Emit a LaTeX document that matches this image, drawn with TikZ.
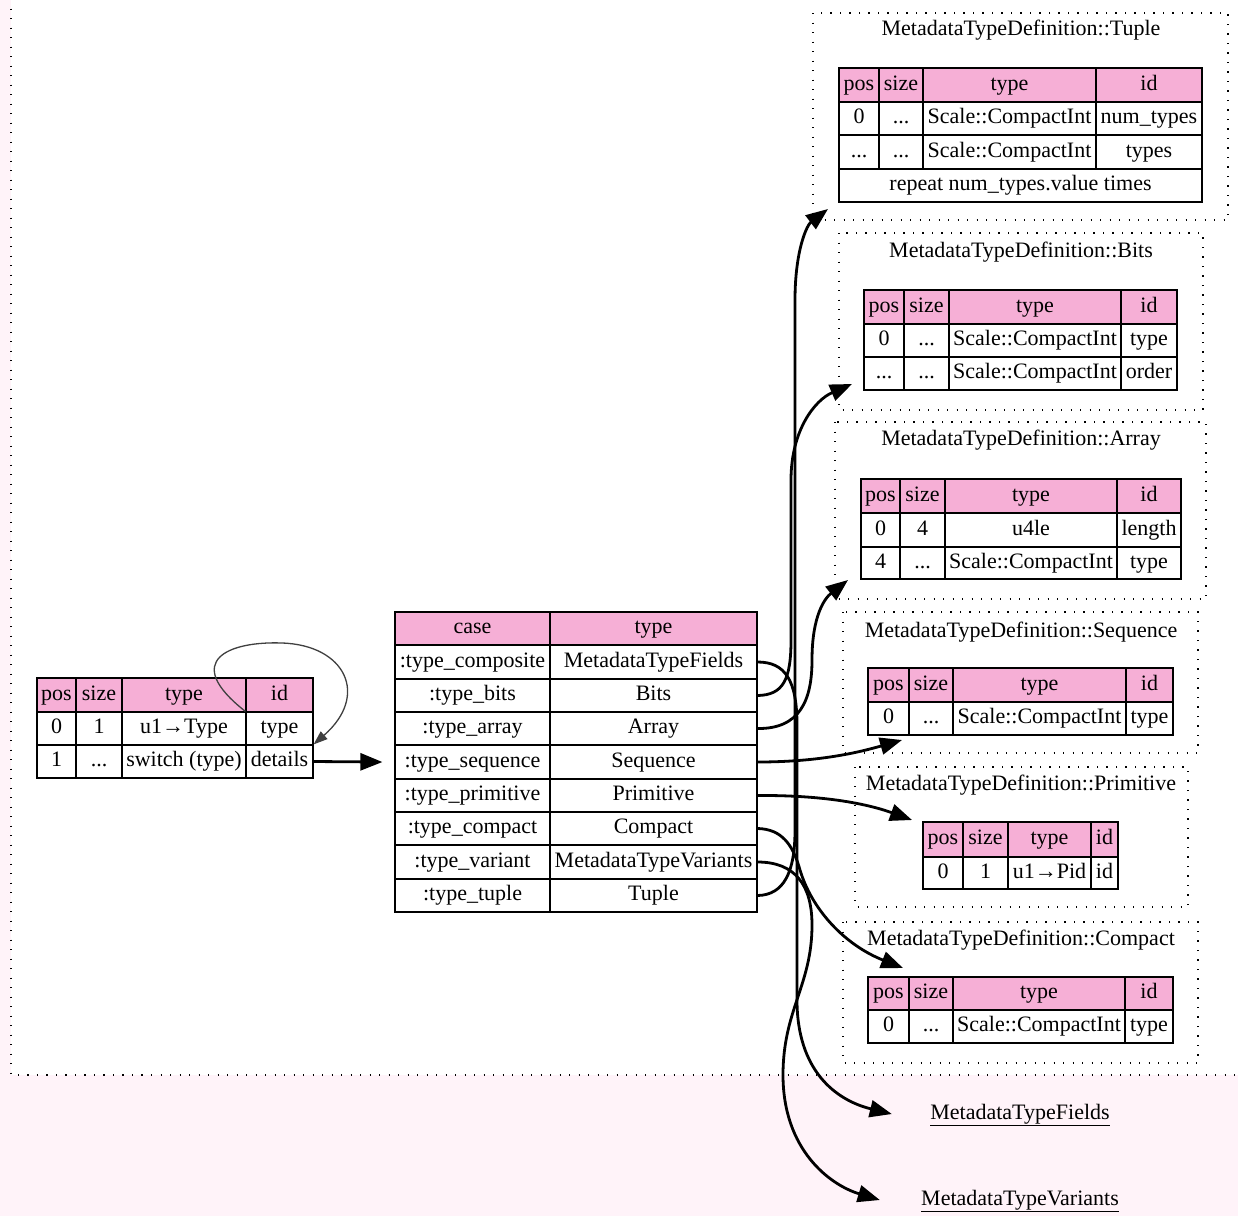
\documentclass[tikz,border=0pt]{standalone}
\usepackage{fontspec}
\setmainfont{Liberation Serif}
\usetikzlibrary{arrows.meta}

\definecolor{headpink}{HTML}{F6AFD6}
\definecolor{bgpink}{HTML}{FFF3F9}
\definecolor{loopgray}{HTML}{404040}

\newcommand{\tblfont}{\fontsize{22}{26}\selectfont}

% one table cell: [style]{name}{x1}{x2}{y1}{y2}{text}
\newcommand{\tblcell}[7][cellbox]{%
  \node[#1, minimum width={(#4-#3)*1pt}, minimum height={(#6-#5)*1pt}]
    (#2) at ({(#3+#4)/2},{(#5+#6)/2}) {#7};}
% one pos/size/type/id row, columns taken from \cxA..\cxE
\newcommand{\posrow}[8][cellbox]{%
  \tblcell[#1]{#2a}{\cxA}{\cxB}{#3}{#4}{#5}
  \tblcell[#1]{#2b}{\cxB}{\cxC}{#3}{#4}{#6}
  \tblcell[#1]{#2c}{\cxC}{\cxD}{#3}{#4}{#7}
  \tblcell[#1]{#2d}{\cxD}{\cxE}{#3}{#4}{#8}}

\tikzset{
  cellbox/.style={draw, line width=1.2pt, inner sep=0pt, fill=white, font=\tblfont,
    text height=15pt, text depth=5pt},
  headbox/.style={cellbox, fill=headpink},
  clusterline/.style={line width=1.3pt, dash pattern=on 1.3pt off 8.2pt},
  titletext/.style={font=\tblfont, inner sep=0pt, text height=15pt, text depth=5pt},
  linktext/.style={font=\tblfont, inner sep=0pt, text height=15pt, text depth=5pt},
  edgeline/.style={line width=2.8pt, -{Triangle[length=22pt,width=17pt]}},
  loopline/.style={line width=1.3pt, loopgray, -{Triangle[length=14pt,width=10pt]}}
}

\begin{document}
\begin{tikzpicture}[x=1pt,y=-1pt]
\useasboundingbox (0,0) rectangle (1238,1216);
\clip (0,0) rectangle (1238,1216);
\fill[bgpink] (0,0) rectangle (1238,1216);
\draw[clusterline, fill=white] (11,-20) rectangle (1260,1075);

% clusters
\draw[clusterline] (813,13) rectangle (1228,220);
\draw[clusterline] (839,233) rectangle (1203,410);
\draw[clusterline] (835,422) rectangle (1206,599);
\draw[clusterline] (843,612) rectangle (1198,753);
\draw[clusterline] (855,767) rectangle (1188,907);
\draw[clusterline] (843,922) rectangle (1198,1063);

\node[titletext] (tuTitle) at (1021,30) {MetadataTypeDefinition::Tuple};
\node[titletext] (biTitle) at (1021,252) {MetadataTypeDefinition::Bits};
\node[titletext] (arTitle) at (1021,440) {MetadataTypeDefinition::Array};
\node[titletext] (sqTitle) at (1021,632) {MetadataTypeDefinition::Sequence};
\node[titletext] (prTitle) at (1021,785) {MetadataTypeDefinition::Primitive};
\node[titletext] (cpTitle) at (1021,940) {MetadataTypeDefinition::Compact};

% main seq
\def\cxA{37}\def\cxB{76}\def\cxC{122}\def\cxD{246}\def\cxE{313}
\posrow[headbox]{sH}{678}{712}{pos}{size}{type}{id}
\posrow{s0}{712}{745}{0}{1}{u1→Type}{type}
\posrow{s1}{745}{778}{1}{...}{switch (type)}{details}

% switch on type
\tblcell[headbox]{cH}{395}{550}{612}{645}{case}
\tblcell[headbox]{tH}{550}{757}{612}{645}{type}
\tblcell{ca1}{395}{550}{645}{679}{:type\_composite}
\tblcell{ty1}{550}{757}{645}{679}{MetadataTypeFields}
\tblcell{ca2}{395}{550}{679}{712}{:type\_bits}
\tblcell{ty2}{550}{757}{679}{712}{Bits}
\tblcell{ca3}{395}{550}{712}{745}{:type\_array}
\tblcell{ty3}{550}{757}{712}{745}{Array}
\tblcell{ca4}{395}{550}{745}{779}{:type\_sequence}
\tblcell{ty4}{550}{757}{745}{779}{Sequence}
\tblcell{ca5}{395}{550}{779}{812}{:type\_primitive}
\tblcell{ty5}{550}{757}{779}{812}{Primitive}
\tblcell{ca6}{395}{550}{812}{845}{:type\_compact}
\tblcell{ty6}{550}{757}{812}{845}{Compact}
\tblcell{ca7}{395}{550}{845}{879}{:type\_variant}
\tblcell{ty7}{550}{757}{845}{879}{MetadataTypeVariants}
\tblcell{ca8}{395}{550}{879}{912}{:type\_tuple}
\tblcell{ty8}{550}{757}{879}{912}{Tuple}

% Tuple
\def\cxA{839}\def\cxB{879}\def\cxC{923}\def\cxD{1096}\def\cxE{1202}
\posrow[headbox]{tuH}{68}{102}{pos}{size}{type}{id}
\posrow{tu0}{102}{135}{0}{...}{Scale::CompactInt}{num\_types}
\posrow{tu1}{135}{169}{...}{...}{Scale::CompactInt}{types}
\tblcell{tuRep}{839}{1202}{169}{202}{repeat num\_types.value times}

% Bits
\def\cxA{864}\def\cxB{904}\def\cxC{949}\def\cxD{1121}\def\cxE{1177}
\posrow[headbox]{biH}{290}{324}{pos}{size}{type}{id}
\posrow{bi0}{324}{357}{0}{...}{Scale::CompactInt}{type}
\posrow{bi1}{357}{390}{...}{...}{Scale::CompactInt}{order}

% Array
\def\cxA{861}\def\cxB{900}\def\cxC{945}\def\cxD{1117}\def\cxE{1181}
\posrow[headbox]{arH}{479}{513}{pos}{size}{type}{id}
\posrow{ar0}{513}{547}{0}{4}{u4le}{length}
\posrow{ar1}{547}{579}{4}{...}{Scale::CompactInt}{type}

% Sequence
\def\cxA{868}\def\cxB{909}\def\cxC{953}\def\cxD{1126}\def\cxE{1173}
\posrow[headbox]{sqH}{668}{702}{pos}{size}{type}{id}
\posrow{sq0}{702}{735}{0}{...}{Scale::CompactInt}{type}

% Primitive
\def\cxA{923}\def\cxB{963}\def\cxC{1008}\def\cxD{1091}\def\cxE{1118}
\posrow[headbox]{prH}{822}{857}{pos}{size}{type}{id}
\posrow{pr0}{857}{889}{0}{1}{u1→Pid}{id}

% Compact
\def\cxA{868}\def\cxB{909}\def\cxC{953}\def\cxD{1125}\def\cxE{1173}
\posrow[headbox]{cpH}{977}{1010}{pos}{size}{type}{id}
\posrow{cp0}{1010}{1043}{0}{...}{Scale::CompactInt}{type}

% outside types
\node[linktext, minimum width=256pt] (fields) at (1020,1114) {\underline{MetadataTypeFields}};
\node[linktext, minimum width=280pt] (variants) at (1020,1200) {\underline{MetadataTypeVariants}};

\coordinate (tupleIn) at (828,209);
\coordinate (bitsIn) at (852,384);
\coordinate (arrayIn) at (848,580);
\coordinate (seqIn) at (902,740);
\coordinate (primIn) at (912,820);
\coordinate (compIn) at (903,968);

% edges
\draw[loopline] (s0d.north west) .. controls (180,660) and (230,641) .. (282,643)
  .. controls (345,645) and (370,695) .. (s1d.north east);
\draw[edgeline] (s1d.east) -- ([xshift=-12pt]ca4.west);

\draw[edgeline] (ty1.east) .. controls (785,662) and (797,680) .. (797,725)
  -- (797,1000) .. controls (797,1070) and (835,1100) .. (fields.west);
\draw[edgeline] (ty2.east) .. controls (783,695) and (791,680) .. (791,640)
  -- (791,480) .. controls (791,430) and (815,400) .. (bitsIn);
\draw[edgeline] (ty3.east) .. controls (800,729) and (812,700) .. (812,660)
  .. controls (812,615) and (825,598) .. (arrayIn);
\draw[edgeline] (ty4.east) .. controls (820,762) and (860,752) .. (seqIn);
\draw[edgeline] (ty5.east) .. controls (820,795) and (865,803) .. (primIn);
\draw[edgeline] (ty6.east) .. controls (782,829) and (793,845) .. (800,870)
  .. controls (812,910) and (845,945) .. (compIn);
\draw[edgeline] (ty7.east) .. controls (795,862) and (812,885) .. (812,925)
  .. controls (812,985) and (783,1010) .. (783,1075)
  .. controls (783,1150) and (830,1185) .. (variants.west);
\draw[edgeline] (ty8.east) .. controls (784,895) and (795,872) .. (795,830)
  -- (795,300) .. controls (795,250) and (807,225) .. (tupleIn);
\end{tikzpicture}
\end{document}
